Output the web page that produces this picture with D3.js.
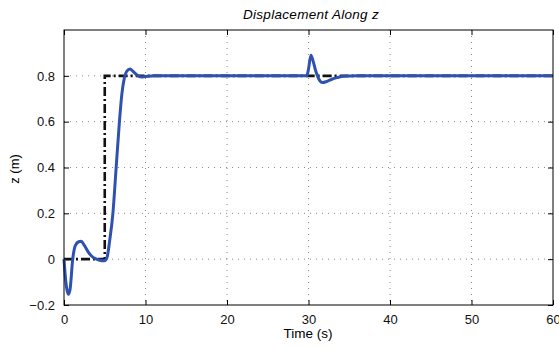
<!DOCTYPE html>
<html>
<head>
<meta charset="utf-8">
<script src="https://cdn.jsdelivr.net/npm/d3@7"></script>
<style>
  body { margin: 0; background: #fff; }
  text { font-family: "Liberation Sans", Arial, sans-serif; }
</style>
</head>
<body>
<svg id="chart" width="559" height="348"></svg>
<script>
// measured response z(t)
var timeS = [0, 0.2, 0.4, 0.55, 0.75, 1.07, 1.4, 1.8, 2.1, 2.5, 3.0, 3.5, 4.0, 4.4, 4.8, 5.1, 5.3, 5.6, 6.0, 6.4, 6.8, 7.1, 7.4, 7.7, 8.1, 8.6, 9.1, 9.6, 10.3, 11, 15, 20, 25, 29.8, 30.0, 30.3, 30.6, 30.9, 31.1, 31.4, 31.7, 32.2, 32.8, 33.5, 34.3, 36, 45, 60];
var zMeas = [0, -0.09, -0.14, -0.153, -0.13, 0, 0.06, 0.076, 0.078, 0.06, 0.03, 0.01, 0.0, -0.005, -0.007, -0.004, 0.01, 0.08, 0.2, 0.4, 0.6, 0.72, 0.79, 0.82, 0.83, 0.815, 0.8, 0.795, 0.798, 0.8, 0.8, 0.8, 0.8, 0.8, 0.83, 0.89, 0.86, 0.82, 0.8, 0.778, 0.771, 0.775, 0.784, 0.792, 0.798, 0.8, 0.8, 0.8];
// reference (commanded) z
var refT = [0, 5, 5, 60];
var refZ = [0, 0, 0.8, 0.8];
var xTicks = [0, 10, 20, 30, 40, 50, 60];
var yTicks = [-0.2, 0, 0.2, 0.4, 0.6, 0.8];

var svg = d3.select("#chart"),
    margin = {top: 30, right: 6, bottom: 43, left: 64},
    width = +svg.attr("width") - margin.left - margin.right,
    height = +svg.attr("height") - margin.top - margin.bottom;

var x = d3.scaleLinear().domain([0, 60]).range([0, width]);
var y = d3.scaleLinear().domain([-0.2, 1.0]).range([height, 0]);

var g = svg.append("g").attr("transform", "translate(" + margin.left + "," + margin.top + ")");

// grid
g.append("g").selectAll("line").data(xTicks.slice(1, -1)).enter().append("line")
  .attr("x1", function(d) { return x(d); }).attr("x2", function(d) { return x(d); })
  .attr("y1", 0).attr("y2", height)
  .attr("stroke", "#888").attr("stroke-width", 1).attr("stroke-dasharray", "1,5");
g.append("g").selectAll("line").data(yTicks.slice(1)).enter().append("line")
  .attr("y1", function(d) { return y(d); }).attr("y2", function(d) { return y(d); })
  .attr("x1", 0).attr("x2", width)
  .attr("stroke", "#888").attr("stroke-width", 1).attr("stroke-dasharray", "1,5");

// axes (ticks inside, box)
var fmt = function(d) { return d < 0 ? "\u2212" + Math.abs(d) : String(d); };
g.append("g").attr("transform", "translate(0," + height + ")")
  .call(d3.axisBottom(x).tickValues(xTicks).tickSizeInner(-5).tickSizeOuter(0).tickPadding(10))
  .call(function(a) { a.select(".domain").remove(); });
g.append("g")
  .call(d3.axisLeft(y).tickValues(yTicks).tickFormat(fmt).tickSizeInner(-5).tickSizeOuter(0).tickPadding(9))
  .call(function(a) { a.select(".domain").remove(); });
g.append("g").call(d3.axisTop(x).tickValues(xTicks).tickSizeInner(-5).tickSizeOuter(0).tickFormat(""))
  .call(function(a) { a.select(".domain").remove(); });
g.append("g").attr("transform", "translate(" + width + ",0)")
  .call(d3.axisRight(y).tickValues(yTicks).tickSizeInner(-5).tickSizeOuter(0).tickFormat(""))
  .call(function(a) { a.select(".domain").remove(); });
g.selectAll(".tick text").attr("font-size", 13).attr("fill", "#111")
  .style("font-family", "'Liberation Sans', Arial, sans-serif");
g.selectAll(".tick line").attr("stroke", "#000");

// reference line
var refData = refT.map(function(t, i) { return [t, refZ[i]]; });
g.append("path").datum(refData)
  .attr("fill", "none").attr("stroke", "#111").attr("stroke-width", 2.6)
  .attr("stroke-dasharray", "9,3,2,3")
  .attr("d", d3.line().x(function(d) { return x(d[0]); }).y(function(d) { return y(d[1]); }));

// response
var measData = timeS.map(function(t, i) { return [t, zMeas[i]]; });
g.append("path").datum(measData)
  .attr("fill", "none").attr("stroke", "#2f52b0").attr("stroke-width", 3)
  .attr("stroke-linejoin", "round")
  .attr("d", d3.line().curve(d3.curveMonotoneX).x(function(d) { return x(d[0]); }).y(function(d) { return y(d[1]); }));

// box
g.append("rect").attr("width", width).attr("height", height)
  .attr("fill", "none").attr("stroke", "#000").attr("stroke-width", 1);

// labels
svg.append("text").attr("x", 311).attr("y", 19)
  .attr("text-anchor", "middle").attr("font-size", 13.5).attr("font-style", "italic")
  .attr("letter-spacing", 0.3)
  .text("Displacement Along z");
svg.append("text").attr("x", 308).attr("y", 338)
  .attr("text-anchor", "middle").attr("font-size", 13.5).text("Time (s)");
svg.append("text").attr("transform", "translate(19,169) rotate(-90)")
  .attr("text-anchor", "middle").attr("font-size", 13).text("z (m)");
</script>
</body>
</html>
